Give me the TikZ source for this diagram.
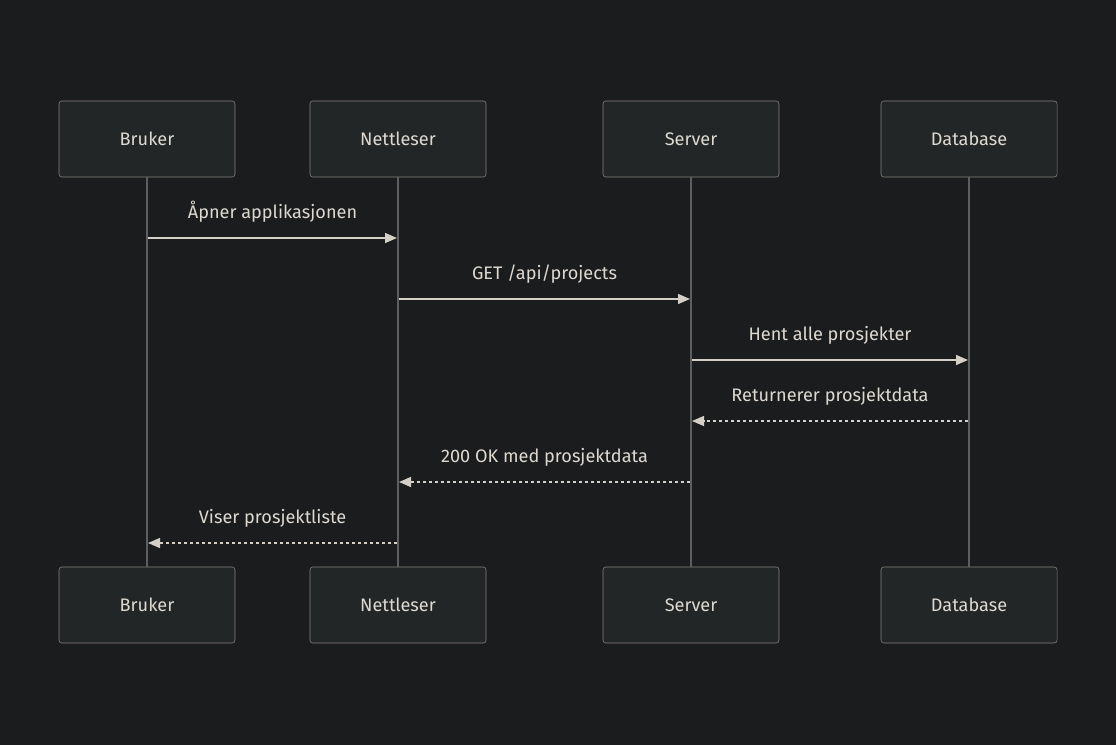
\documentclass[tikz,border=0pt]{standalone}
\usepackage{fontspec}
\setmainfont{Fira Sans}
\usetikzlibrary{arrows.meta}
\definecolor{bgcol}{HTML}{1B1C1E}
\definecolor{boxfill}{HTML}{232627}
\definecolor{boxline}{HTML}{86827C}
\definecolor{txtcol}{HTML}{DDD9D1}
\definecolor{lifecol}{HTML}{5C5E60}
\definecolor{msgcol}{HTML}{D4D0C8}

\begin{document}
\begin{tikzpicture}[x=0.75pt,y=-0.75pt]
    \tikzstyle{actor}=[draw=boxline,fill=boxfill,text=txtcol,rounded corners=2pt,minimum width=132pt,minimum height=57pt,inner sep=0pt,font=\fontsize{13.6}{15}\selectfont]
    \tikzstyle{life}=[draw=lifecol,line width=1.2pt]
    \tikzstyle{msg}=[draw=msgcol,line width=1pt,-{Triangle[length=9pt,width=7.5pt]}]
    \tikzstyle{reply}=[msg,dashed,dash pattern=on 2.5pt off 2pt]
    \tikzstyle{label}=[text=txtcol,font=\fontsize{13.6}{15}\selectfont,above=8pt]

    \fill[bgcol] (0,0) rectangle (1116,745);
    \useasboundingbox (0,0) rectangle (1116,745);

    \node[actor] (a) at (147, 139) {Bruker};
    \node[actor] (b) at (398, 139) {Nettleser};
    \node[actor] (c) at (691, 139) {Server};
    \node[actor] (d) at (969, 139) {Database};

    \node[actor] (a2) at (147, 605) {Bruker};
    \node[actor] (b2) at (398, 605) {Nettleser};
    \node[actor] (c2) at (691, 605) {Server};
    \node[actor] (d2) at (969, 605) {Database};

    \path[life] (a) -- (a2);
    \path[life] (b) -- (b2);
    \path[life] (c) -- (c2);
    \path[life] (d) -- (d2);

    \coordinate (a1) at (148, 238);
    \coordinate (b1) at (397, 238);
    \coordinate (b3) at (399, 299);
    \coordinate (c3) at (690, 299);
    \coordinate (c4) at (692, 360);
    \coordinate (d4) at (968, 360);
    \coordinate (d5) at (968, 421);
    \coordinate (c5) at (692, 421);
    \coordinate (c6) at (690, 482);
    \coordinate (b6) at (399, 482);
    \coordinate (b7) at (397, 543);
    \coordinate (a7) at (148, 543);

    \path[msg] (a1) -- node[label]{Åpner applikasjonen} (b1);
    \path[msg] (b3) -- node[label]{GET /api/projects} (c3);
    \path[msg] (c4) -- node[label]{Hent alle prosjekter} (d4);
    \path[reply] (d5) -- node[label]{Returnerer prosjektdata} (c5);
    \path[reply] (c6) -- node[label]{200 OK med prosjektdata} (b6);
    \path[reply] (b7) -- node[label]{Viser prosjektliste} (a7);

\end{tikzpicture}
\end{document}
